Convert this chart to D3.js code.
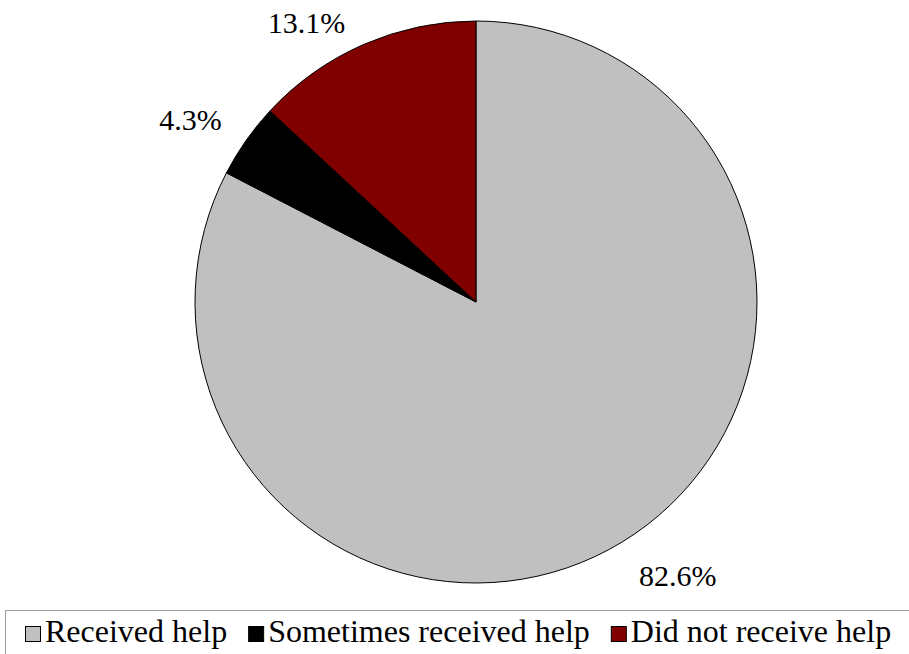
<!DOCTYPE html>
<html>
<head>
<meta charset="utf-8">
<script src="https://cdn.jsdelivr.net/npm/d3@7"></script>
</head>
<body style="margin:0">
<svg id="chart" width="909" height="654" style="font-family: 'Times New Roman', 'Liberation Serif', serif;"></svg>
<script>
const categories = ["Received help", "Sometimes received help", "Did not receive help"];
const values = [82.6, 4.3, 13.1];
const labels = ["82.6%", "4.3%", "13.1%"];
const colors = ["#c0c0c0", "#000000", "#800000"];

const FONT = '"Times New Roman", "Liberation Serif", serif';

const svg = d3.select("#chart");
const cx = 476, cy = 302, r = 281;

const data = categories.map((c, i) => ({ name: c, value: values[i], label: labels[i], color: colors[i] }));
const pie = d3.pie().value(d => d.value).sort(null);
const arcs = pie(data);
const arc = d3.arc().innerRadius(0).outerRadius(r);

const g = svg.append("g").attr("transform", `translate(${cx},${cy})`);
g.selectAll("path").data(arcs).join("path")
  .attr("d", arc)
  .attr("fill", d => d.data.color)
  .attr("stroke", "#000")
  .attr("stroke-width", 1);

// label positions (offset from slice mid-angle)
const labelArc = d3.arc().innerRadius(r + 40).outerRadius(r + 40);
const labelAdj = [[35, 10], [-23, 13], [-41, 25]];
arcs.forEach((d, i) => {
  const c = labelArc.centroid(d);
  g.append("text")
    .attr("x", c[0] + labelAdj[i][0])
    .attr("y", c[1] + labelAdj[i][1])
    .attr("text-anchor", "middle")
    .attr("font-family", "Times New Roman")
    .style("font-family", FONT)
    .style("font-size", "30px")
    .text(d.data.label);
});

// legend
svg.append("rect")
  .attr("x", 5.5).attr("y", 610.5)
  .attr("width", 920).attr("height", 60)
  .attr("fill", "#fff").attr("stroke", "#a0a0a0").attr("stroke-width", 1);

let x = 25;
data.forEach((d, i) => {
  svg.append("rect")
    .attr("x", x + 0.5).attr("y", 626.5)
    .attr("width", 15).attr("height", 15)
    .attr("fill", d.color).attr("stroke", "#000").attr("stroke-width", 1);
  const t = svg.append("text")
    .attr("x", x + 20).attr("y", 642)
    .attr("font-family", "Times New Roman")
    .style("font-family", FONT)
    .style("font-size", "32px")
    .text(d.name);
  const w = t.node().getComputedTextLength();
  x = x + 20 + w + 21;
});
</script>
</body>
</html>
